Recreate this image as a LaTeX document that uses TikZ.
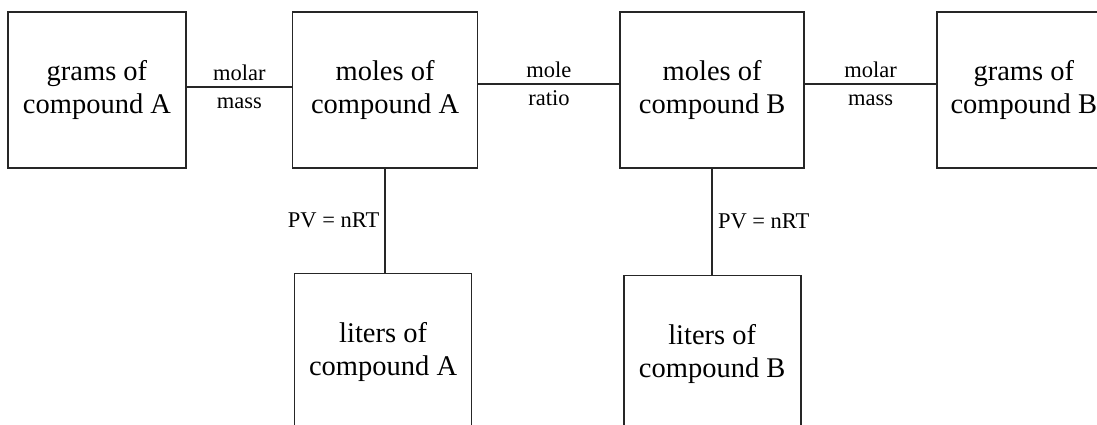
\documentclass[tikz,border=0pt]{standalone}
\usepackage{fontspec}
\setmainfont{Liberation Serif}
\usetikzlibrary{positioning}

\begin{document}
\begin{tikzpicture}[
    x=1pt,y=-1pt,
    stepbox/.style={draw=black!85,line width=1.6pt,minimum height=156pt,
      align=center,inner sep=0pt,font=\fontsize{28.5}{33}\selectfont},
    link/.style={draw=black!85,line width=1.6pt},
    tag/.style={font=\fontsize{22.5}{28}\selectfont,align=center,inner sep=2pt}
  ]
    \useasboundingbox (0,0) rectangle (1097,425);
    % top row
    \node[stepbox,minimum width=178pt] (gA) at (97,90) {grams of\\compound A};
    \node[stepbox,minimum width=185pt,right=105pt of gA] (mA) {moles of\\compound A};
    \node[stepbox,minimum width=184pt,right=141pt of mA] (mB) {moles of\\compound B};
    \node[stepbox,minimum width=174pt,right=131pt of mB] (gB) {grams of\\compound B};
    % bottom row
    \node[stepbox,minimum width=177pt,below=104pt of mA,xshift=-2pt] (lA) {liters of\\compound A};
    \node[stepbox,minimum width=177pt,below=106pt of mB] (lB) {liters of\\compound B};
    \draw[link] ([yshift=3pt]gA.east) -- node[tag] {molar\\mass} ([yshift=3pt]mA.west);
    \draw[link] ([yshift=6pt]mA.east) -- node[tag] {mole\\ratio} ([yshift=6pt]mB.west);
    \draw[link] ([yshift=6pt]mB.east) -- node[tag] {molar\\mass} ([yshift=6pt]gB.west);
    \draw[link] (mA.south) -- node[tag,left=3pt] {PV = nRT} (mA.south |- lA.north);
    \draw[link] (mB.south) -- node[tag,right=3pt] {PV = nRT} (mB.south |- lB.north);
  \end{tikzpicture}
\end{document}
